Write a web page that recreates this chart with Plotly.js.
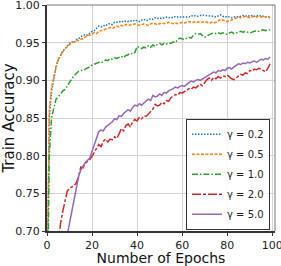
<!DOCTYPE html>
<html>
<head>
<meta charset="utf-8">
<script src="https://cdn.plot.ly/plotly-3.0.1.min.js"></script>
<style>html,body{margin:0;padding:0;background:#fff;}#chart{width:281px;height:266px;}</style>
</head>
<body>
<div id="chart"></div>
<script>
const epochs = Array.from({length: 100}, (_, i) => i);
const gammaLabels = ["γ = 0.2", "γ = 0.5", "γ = 1.0", "γ = 2.0", "γ = 5.0"];

const acc_g02 = [0.600,0.850,0.885,0.903,0.917,0.927,0.933,0.939,0.942,0.946,
0.949,0.951,0.950,0.954,0.955,0.958,0.960,0.961,0.960,0.963,
0.965,0.966,0.969,0.972,0.971,0.973,0.972,0.975,0.975,0.974,
0.977,0.977,0.978,0.977,0.979,0.978,0.978,0.979,0.978,0.980,
0.979,0.978,0.980,0.981,0.979,0.981,0.982,0.981,0.983,0.982,
0.983,0.982,0.983,0.984,0.983,0.984,0.983,0.985,0.984,0.984,
0.985,0.984,0.985,0.984,0.986,0.985,0.986,0.985,0.986,0.987,
0.986,0.986,0.985,0.986,0.985,0.984,0.986,0.987,0.985,0.984,
0.985,0.984,0.983,0.984,0.985,0.984,0.985,0.986,0.985,0.986,
0.985,0.986,0.985,0.986,0.985,0.986,0.985,0.984,0.985,0.984];

const acc_g05 = [0.600,0.860,0.890,0.905,0.918,0.928,0.934,0.938,0.942,0.945,
0.948,0.950,0.951,0.953,0.953,0.955,0.955,0.958,0.960,0.960,
0.962,0.963,0.962,0.965,0.966,0.967,0.968,0.968,0.970,0.969,
0.971,0.972,0.971,0.973,0.972,0.974,0.973,0.973,0.974,0.975,
0.974,0.973,0.974,0.975,0.974,0.973,0.975,0.976,0.975,0.974,
0.975,0.976,0.975,0.976,0.977,0.976,0.975,0.976,0.975,0.976,
0.977,0.976,0.977,0.978,0.977,0.977,0.978,0.977,0.978,0.977,
0.978,0.977,0.976,0.977,0.976,0.977,0.979,0.981,0.980,0.979,
0.978,0.979,0.980,0.981,0.983,0.984,0.983,0.984,0.985,0.984,
0.983,0.984,0.985,0.984,0.985,0.984,0.985,0.984,0.985,0.983];

const acc_g10 = [0.550,0.800,0.850,0.865,0.875,0.878,0.882,0.886,0.888,0.893,
0.898,0.902,0.906,0.909,0.912,0.913,0.913,0.915,0.916,0.918,
0.920,0.921,0.922,0.924,0.923,0.925,0.927,0.926,0.929,0.928,
0.930,0.929,0.931,0.932,0.930,0.933,0.934,0.936,0.935,0.937,
0.945,0.943,0.942,0.944,0.943,0.946,0.944,0.947,0.945,0.948,
0.949,0.947,0.949,0.948,0.950,0.949,0.951,0.950,0.954,0.956,
0.955,0.954,0.956,0.957,0.956,0.960,0.962,0.961,0.962,0.959,
0.957,0.959,0.961,0.962,0.963,0.962,0.963,0.962,0.963,0.962,
0.961,0.963,0.964,0.962,0.963,0.964,0.965,0.964,0.965,0.964,
0.963,0.964,0.965,0.966,0.965,0.966,0.967,0.966,0.967,0.967];

const acc_g20 = [0.300,0.450,0.550,0.610,0.650,0.685,0.710,0.726,0.742,0.753,
0.757,0.758,0.760,0.764,0.772,0.785,0.784,0.790,0.792,0.795,
0.799,0.804,0.810,0.815,0.812,0.819,0.822,0.818,0.822,0.821,
0.825,0.823,0.829,0.836,0.833,0.840,0.842,0.838,0.845,0.848,
0.846,0.851,0.849,0.853,0.852,0.855,0.858,0.862,0.868,0.866,
0.867,0.871,0.869,0.873,0.872,0.877,0.879,0.881,0.880,0.884,
0.883,0.885,0.887,0.889,0.888,0.891,0.890,0.893,0.895,0.893,
0.897,0.901,0.903,0.900,0.904,0.902,0.905,0.903,0.906,0.905,
0.907,0.904,0.902,0.901,0.903,0.906,0.908,0.907,0.910,0.909,
0.913,0.912,0.915,0.914,0.916,0.915,0.913,0.911,0.916,0.922];

const acc_g50 = [0.200,0.300,0.400,0.480,0.540,0.590,0.630,0.660,0.680,0.695,
0.710,0.728,0.745,0.760,0.772,0.781,0.787,0.791,0.794,0.797,
0.806,0.815,0.826,0.832,0.834,0.833,0.838,0.840,0.843,0.845,
0.849,0.848,0.853,0.852,0.856,0.858,0.861,0.859,0.864,0.867,
0.866,0.869,0.867,0.870,0.872,0.875,0.873,0.880,0.878,0.879,
0.882,0.880,0.884,0.883,0.886,0.887,0.889,0.891,0.890,0.892,
0.893,0.892,0.895,0.897,0.899,0.898,0.900,0.901,0.900,0.902,
0.904,0.906,0.908,0.909,0.911,0.910,0.913,0.912,0.914,0.913,
0.916,0.917,0.915,0.918,0.920,0.922,0.921,0.923,0.922,0.924,
0.923,0.925,0.926,0.924,0.926,0.928,0.927,0.929,0.928,0.931];

const seriesValues = [acc_g02, acc_g05, acc_g10, acc_g20, acc_g50];
const colors = ["#1f77b4", "#ff7f0e", "#2ca02c", "#d62728", "#9467bd"];
const dashes = ["1.5px,1.5px", "3px,1.5px", "6px,2px,1.5px,2px", "9px,2px,3px,2px", "solid"];

const traces = seriesValues.map((vals, i) => ({
  x: epochs, y: vals, type: "scatter", mode: "lines", name: gammaLabels[i],
  legendgroup: "g" + i,
  line: {color: colors[i], width: 1.5, dash: dashes[i]}
}));

const layout = {
  width: 281, height: 266,
  margin: {l: 47, r: 6, t: 5, b: 35},
  paper_bgcolor: "#fff", plot_bgcolor: "#fff",
  font: {family: "DejaVu Sans", color: "#222", size: 11},
  showlegend: true,
  legend: {
    x: 0.978, y: 0.006, xanchor: "right", yanchor: "bottom",
    bgcolor: "rgba(255,255,255,0.85)", bordercolor: "#333", borderwidth: 1,
    font: {family: "DejaVu Sans", size: 10, color: "#222"},
    itemwidth: 30, tracegroupgap: 1
  },
  xaxis: {
    range: [0, 101.2], tickvals: [0, 20, 40, 60, 80, 100],
    showgrid: true, gridcolor: "#d3d3d3", gridwidth: 1, zeroline: false,
    showline: true, linecolor: "#333", linewidth: 2,
    ticks: "outside", ticklen: 3, tickcolor: "#333", tickwidth: 1,
    ticklabeloverflow: "allow",
    tickfont: {size: 11, family: "DejaVu Sans", color: "#222"},
    title: {text: "Number of Epochs", font: {size: 14, family: "DejaVu Sans", color: "#111"}, standoff: 6}
  },
  yaxis: {
    range: [0.70, 1.00], tickvals: [0.70, 0.75, 0.80, 0.85, 0.90, 0.95, 1.00], tickformat: ".2f",
    showgrid: true, gridcolor: "#d3d3d3", gridwidth: 1, zeroline: false,
    showline: true, linecolor: "#333", linewidth: 2,
    ticks: "outside", ticklen: 3, tickcolor: "#333", tickwidth: 1,
    ticklabeloverflow: "allow",
    tickfont: {size: 11, family: "DejaVu Sans", color: "#222"},
    title: {text: "Train Accuracy", font: {size: 15, family: "DejaVu Sans", color: "#111"}, standoff: 2}
  },
  shapes: [
    {type: "line", xref: "paper", yref: "paper", x0: 0, x1: 1, y0: 1, y1: 1, line: {color: "#777", width: 1}},
    {type: "line", xref: "paper", yref: "paper", x0: 1, x1: 1, y0: 0, y1: 1, line: {color: "#777", width: 1}}
  ]
};

Plotly.newPlot("chart", traces, layout, {displayModeBar: false, staticPlot: true});
</script>
</body>
</html>
